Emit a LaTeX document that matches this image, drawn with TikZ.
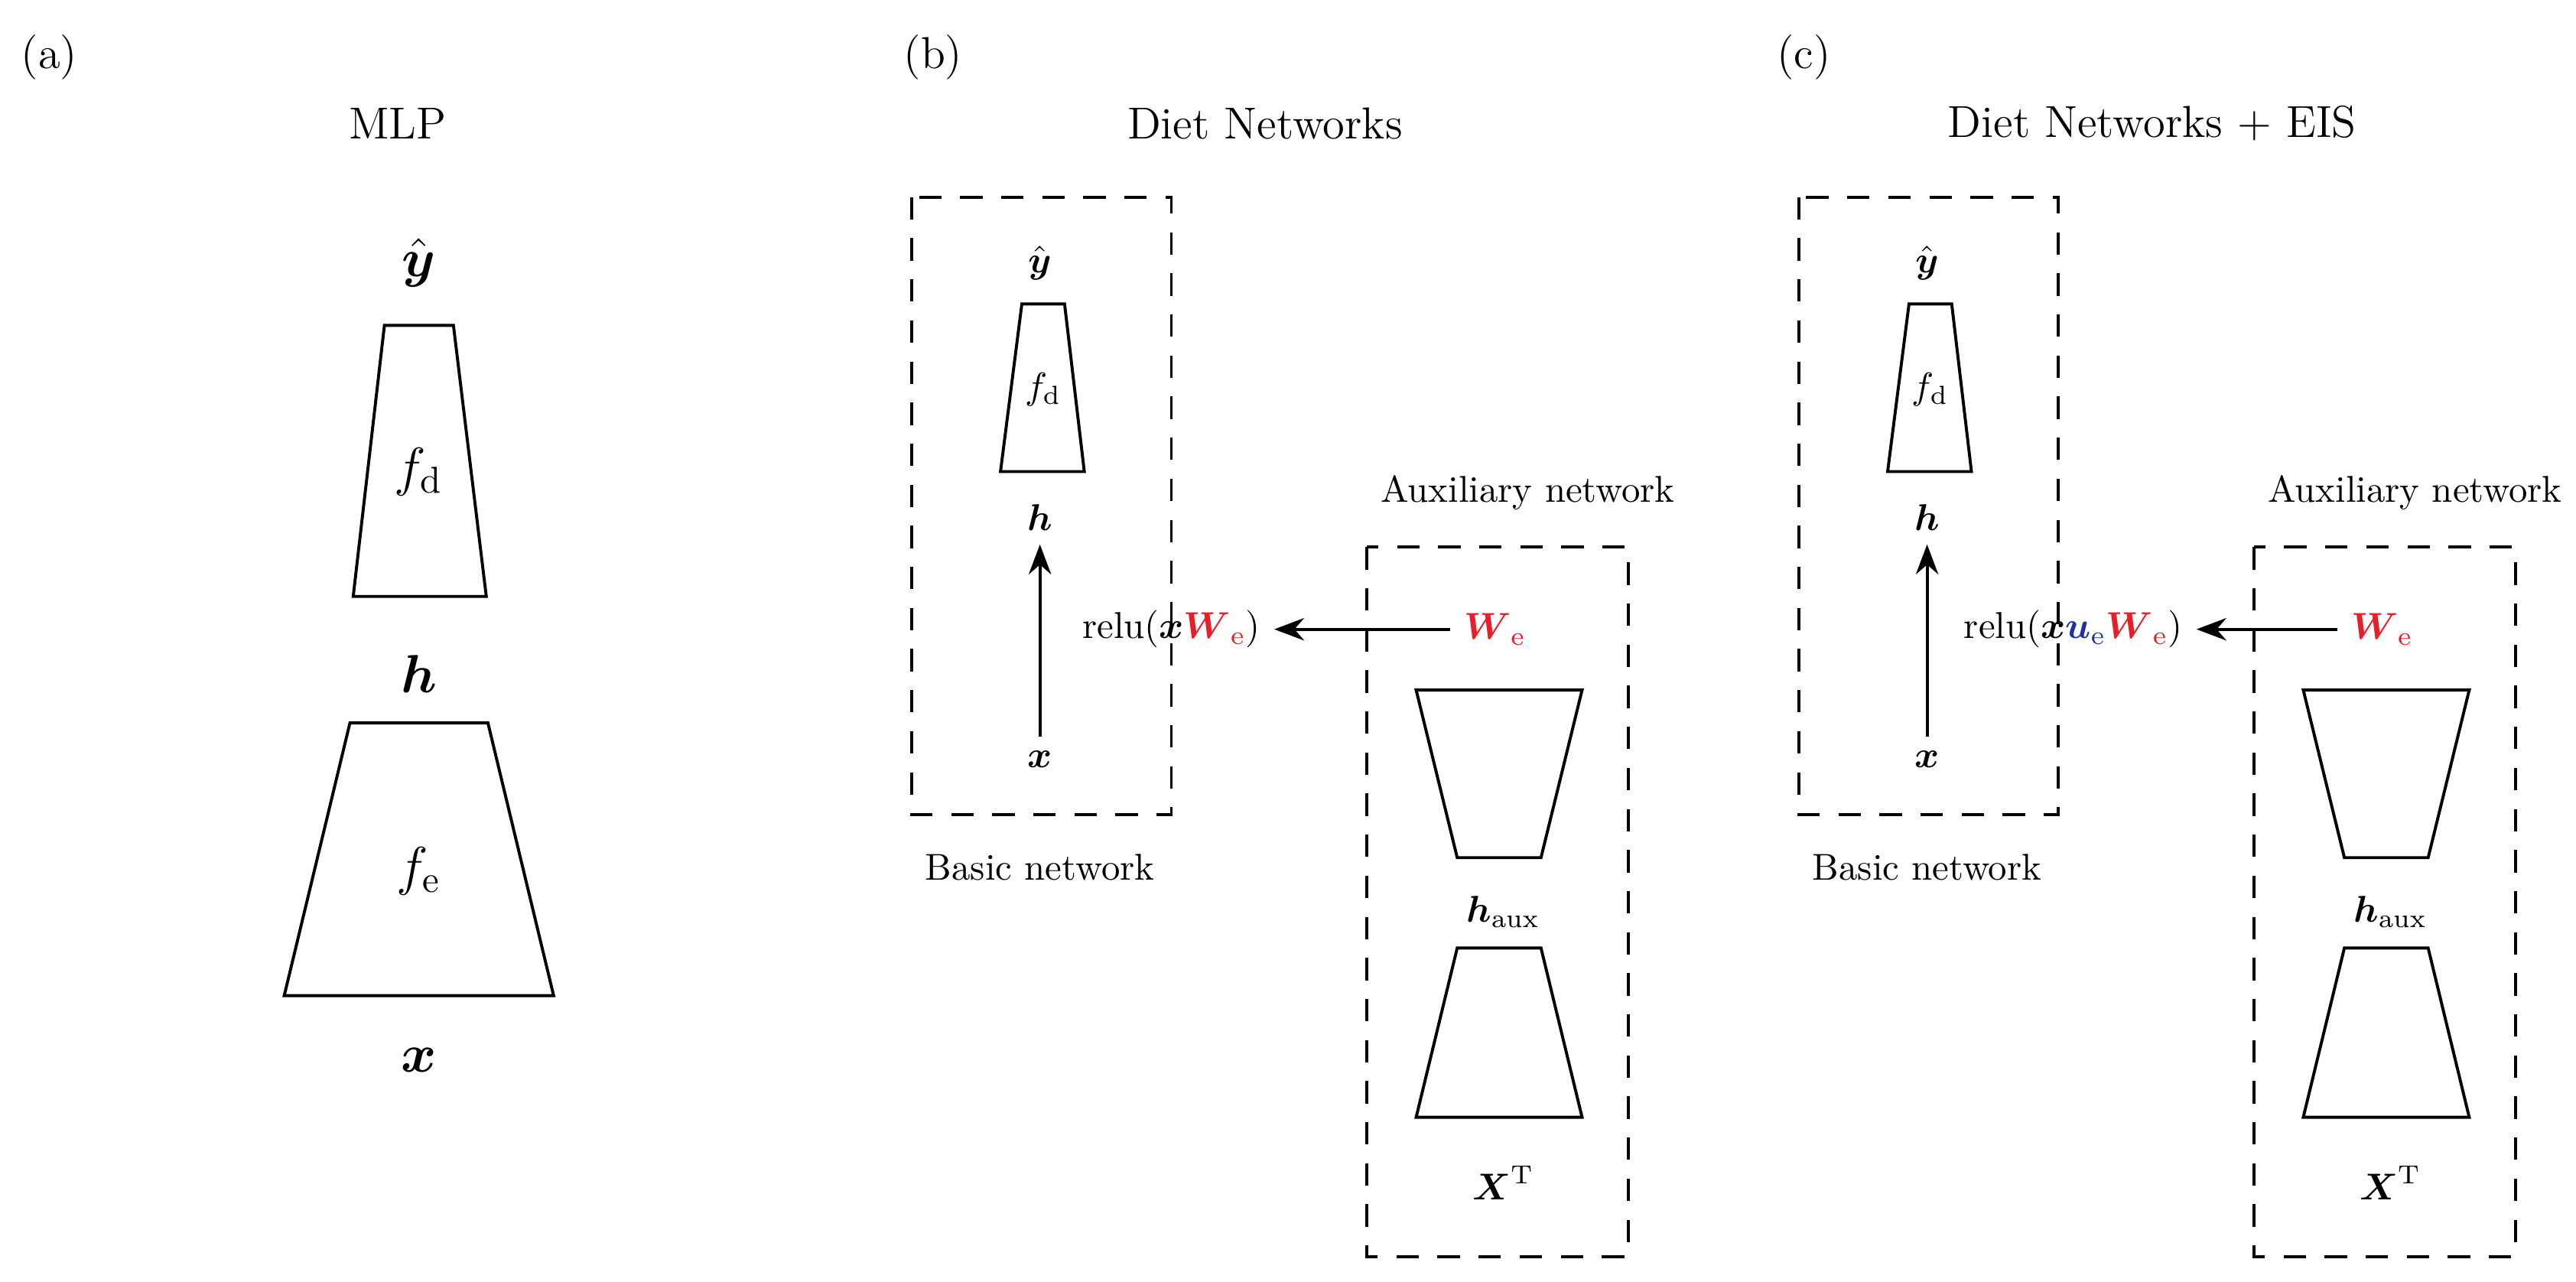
\documentclass[tikz,border=0pt]{standalone}
\usepackage{amsmath,amssymb}
\usetikzlibrary{arrows.meta}
\definecolor{wred}{RGB}{232,30,40}
\definecolor{ublue}{RGB}{30,50,160}

\begin{document}
\begin{tikzpicture}[x=0.44pt,y=-0.44pt,>={Stealth[length=8pt,width=6pt]},
    thick,
    layer/.style={draw,line width=0.8pt},
    dashbox/.style={draw,line width=0.8pt,dash pattern=on 6pt off 5pt},
    lab/.style={font=\normalsize},
    big/.style={font=\Large},
    title/.style={font=\large}]

    \useasboundingbox (0,0) rectangle (1568,780);

    % (a) MLP
    \node[title] (la) at (30,35) {(a)};
    \node[title] (tmlp) at (242,75) {MLP};
    \node[big] (ya) at (255,160) {$\hat{\boldsymbol{y}}$};
    \draw[layer] (234,198) -- (276,198) -- (296,363) -- (215,363) -- cycle;
    \node[big] (fda) at (255,287) {$f_{\mathrm{d}}$};
    \node[big] (ha) at (255,410) {$\boldsymbol{h}$};
    \draw[layer] (213,440) -- (297,440) -- (337,606) -- (173,606) -- cycle;
    \node[big] (fea) at (255,530) {$f_{\mathrm{e}}$};
    \node[big] (xa) at (255,645) {$\boldsymbol{x}$};

    % (b) Diet Networks
    \node[title] (lb) at (568,35) {(b)};
    \node[title] (tdn) at (770,75) {Diet Networks};
    \draw[dashbox] (555,120) rectangle (713,496);
    \node[lab] (yb) at (633,160) {$\hat{\boldsymbol{y}}$};
    \draw[layer] (622,185) -- (648,185) -- (660,287) -- (609,287) -- cycle;
    \node[lab] (fdb) at (635,237) {$f_{\mathrm{d}}$};
    \node[lab] (hb) at (633,315) {$\boldsymbol{h}$};
    \node[lab] (xb) at (633,462) {$\boldsymbol{x}$};
    \node[lab] (rb) at (713,383) {relu$(\boldsymbol{x}\textcolor{wred}{\boldsymbol{W}_{\mathrm{e}}})$};
    \node[lab,text=wred] (wb) at (910,383) {$\boldsymbol{W}_{\mathrm{e}}$};
    \node[lab] (bnb) at (633,528) {Basic network};
    \node[lab] (anb) at (930,300) {Auxiliary network};
    \draw[dashbox] (832,333) rectangle (991,765);
    \draw[layer] (862,420) -- (963,420) -- (938,522) -- (887,522) -- cycle;
    \node[lab] (hauxb) at (915,555) {$\boldsymbol{h}_{\mathrm{aux}}$};
    \draw[layer] (887,577) -- (938,577) -- (963,680) -- (862,680) -- cycle;
    \node[lab] (XTb) at (915,720) {$\boldsymbol{X}^{\mathrm{T}}$};
    \draw[->,line width=0.8pt] (xb) -- (hb);
    \draw[->,line width=0.8pt] (wb) -- (rb);

    % (c) Diet Networks + EIS
    \node[title] (lc) at (1098,35) {(c)};
    \node[title] (tdne) at (1310,75) {Diet Networks + EIS};
    \draw[dashbox] (1095,120) rectangle (1253,496);
    \node[lab] (yc) at (1173,160) {$\hat{\boldsymbol{y}}$};
    \draw[layer] (1162,185) -- (1188,185) -- (1200,287) -- (1149,287) -- cycle;
    \node[lab] (fdc) at (1175,237) {$f_{\mathrm{d}}$};
    \node[lab] (hc) at (1173,315) {$\boldsymbol{h}$};
    \node[lab] (xc) at (1173,462) {$\boldsymbol{x}$};
    \node[lab] (rc) at (1262,383) {relu$(\boldsymbol{x}\textcolor{ublue}{\boldsymbol{u}_{\mathrm{e}}}\textcolor{wred}{\boldsymbol{W}_{\mathrm{e}}})$};
    \node[lab,text=wred] (wc) at (1450,383) {$\boldsymbol{W}_{\mathrm{e}}$};
    \node[lab] (bnc) at (1173,528) {Basic network};
    \node[lab] (anc) at (1470,300) {Auxiliary network};
    \draw[dashbox] (1372,333) rectangle (1531,765);
    \draw[layer] (1402,420) -- (1503,420) -- (1478,522) -- (1427,522) -- cycle;
    \node[lab] (hauxc) at (1455,555) {$\boldsymbol{h}_{\mathrm{aux}}$};
    \draw[layer] (1427,577) -- (1478,577) -- (1503,680) -- (1402,680) -- cycle;
    \node[lab] (XTc) at (1455,720) {$\boldsymbol{X}^{\mathrm{T}}$};
    \draw[->,line width=0.8pt] (xc) -- (hc);
    \draw[->,line width=0.8pt] (wc) -- (rc);
\end{tikzpicture}
\end{document}
